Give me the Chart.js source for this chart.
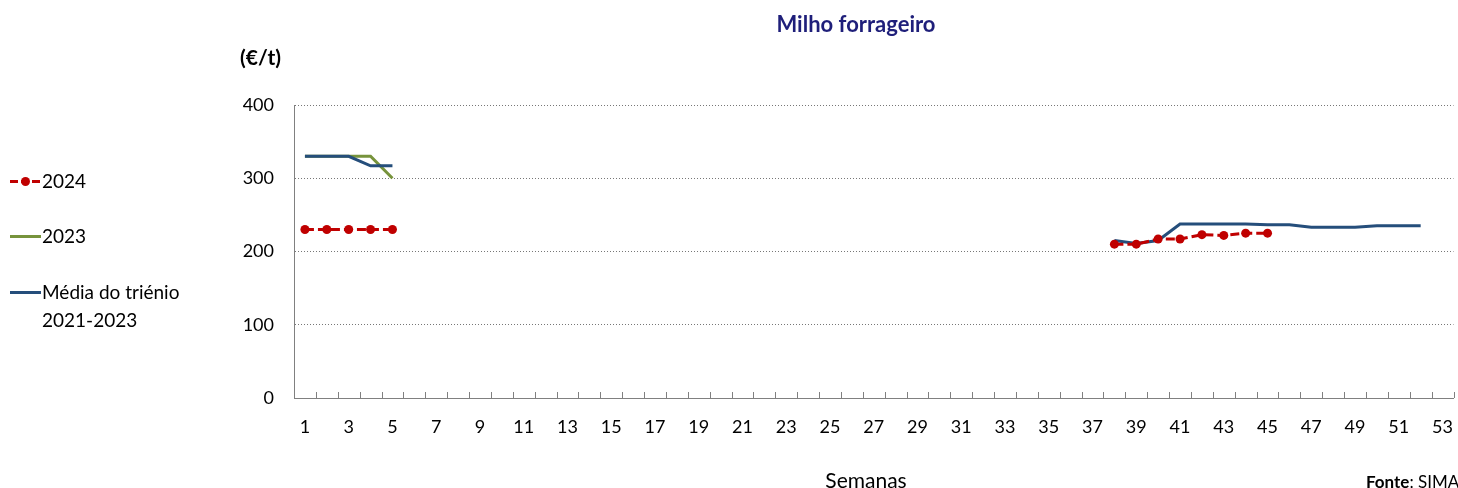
<!DOCTYPE html>
<html>
<head>
<meta charset="utf-8">
<script src="https://cdn.jsdelivr.net/npm/chart.js@4"></script>
<style>
  body { margin: 0; background: #fff; font-family: Lato, "Open Sans", sans-serif; }
  #wrap { position: relative; width: 1458px; height: 488px; overflow: hidden; }
  canvas { position: absolute; left: 0; top: 0; }
  .txt { position: absolute; white-space: nowrap; color: #000; font-size: 18px; line-height: 28px; }
  .legend-item { position: absolute; left: 10px; font-size: 19px; line-height: 28px; }
  .swatch { position: absolute; left: 0; top: 13px; width: 31px; height: 3px; }
  .legend-item span.lbl { position: absolute; left: 32px; top: 0; white-space: nowrap; }
</style>
</head>
<body>
<div id="wrap">
  <canvas id="chart" width="1458" height="488"></canvas>
  <div class="txt" style="left:856px;top:10px;transform:translateX(-50%);font-weight:bold;color:#1F1F7A;font-size:22px;">Milho forrageiro</div>
  <div class="txt" style="left:240px;top:43px;font-weight:bold;font-size:21px;">(€/t)</div>
  <div class="txt" style="left:866px;top:466px;transform:translateX(-50%);font-size:21px;">Semanas</div>
  <div class="txt" style="left:1366px;top:469px;font-size:17px;line-height:26px;"><b>Fonte</b>: SIMA</div>

  <div class="legend-item" style="top:167px;">
    <div class="swatch" style="background:repeating-linear-gradient(90deg,#C00000 0 8px,transparent 8px 11px);"></div>
    <div style="position:absolute;left:11px;top:10px;width:9px;height:9px;border-radius:50%;background:#C00000;"></div>
    <span class="lbl">2024</span>
  </div>
  <div class="legend-item" style="top:222px;">
    <div class="swatch" style="background:#77933C;"></div>
    <span class="lbl">2023</span>
  </div>
  <div class="legend-item" style="top:278px;">
    <div class="swatch" style="background:#254E7B;"></div>
    <span class="lbl">Média do triénio<br>2021-2023</span>
  </div>
</div>
<script>
// weeks 1..53
const weeks = Array.from({ length: 53 }, (_, i) => String(i + 1));

// values by week, null = no quote
const serie2024 = [
  230, 230, 230, 230, 230, null, null, null, null, null,
  null, null, null, null, null, null, null, null, null, null,
  null, null, null, null, null, null, null, null, null, null,
  null, null, null, null, null, null, null, 210, 210, 217,
  217, 223, 222, 225, 225, null, null, null, null, null,
  null, null, null,
];
const serie2023 = [
  330, 330, 330, 330, 300, null, null, null, null, null,
  null, null, null, null, null, null, null, null, null, null,
  null, null, null, null, null, null, null, null, null, null,
  null, null, null, null, null, null, null, null, null, null,
  null, null, null, null, null, null, null, null, null, null,
  null, null, null,
];
const mediaTrienio = [
  330, 330, 330, 317, 317, null, null, null, null, null,
  null, null, null, null, null, null, null, null, null, null,
  null, null, null, null, null, null, null, null, null, null,
  null, null, null, null, null, null, null, 215, 211, 215,
  237.5, 237.5, 237.5, 237.5, 236.5, 236.5, 233, 233, 233, 235,
  235, 235, null,
];
const yTicks = [0, 100, 200, 300, 400];

// small tick marks between categories, drawn upward from the axis
const innerTicks = {
  id: "innerTicks",
  afterDraw(chart) {
    const x = chart.scales.x;
    const ctx = chart.ctx;
    const half = (x.getPixelForValue(1) - x.getPixelForValue(0)) / 2;
    ctx.save();
    ctx.strokeStyle = "#808080";
    ctx.lineWidth = 1;
    ctx.beginPath();
    for (let i = 0; i <= weeks.length; i++) {
      const px = Math.round(x.getPixelForValue(i) - half) + 0.5;
      ctx.moveTo(px, x.top);
      ctx.lineTo(px, x.top - 6);
    }
    ctx.stroke();
    ctx.restore();
  },
};

new Chart(document.getElementById("chart"), {
  type: "line",
  data: {
    labels: weeks,
    datasets: [
      {
        label: "2024",
        data: serie2024,
        borderColor: "#C00000",
        backgroundColor: "#C00000",
        borderWidth: 3,
        borderDash: [9, 4],
        pointRadius: 4.5,
        pointBorderWidth: 0,
        order: 0,
      },
      {
        label: "2023",
        data: serie2023,
        borderColor: "#77933C",
        borderWidth: 3,
        pointRadius: 0,
        order: 2,
      },
      {
        label: "Média do triénio 2021-2023",
        data: mediaTrienio,
        borderColor: "#254E7B",
        borderWidth: 3,
        pointRadius: 0,
        order: 1,
      },
    ],
  },
  options: {
    responsive: false,
    animation: false,
    spanGaps: false,
    layout: { padding: { top: 105, right: 1, left: 0, bottom: 0 } },
    plugins: { legend: { display: false }, tooltip: { enabled: false } },
    scales: {
      x: {
        offset: true,
        grid: { display: false, drawTicks: false },
        border: { display: true, color: "#808080", width: 1 },
        ticks: {
          autoSkip: false,
          maxRotation: 0,
          padding: 18,
          color: "#000",
          font: { family: "Lato", size: 18 },
          callback: (v, i) => (i % 2 === 0 ? weeks[i] : ""),
        },
        afterFit: (s) => {
          s.height = 90;
          s.paddingLeft = 0;
          s.paddingRight = 0;
        },
      },
      y: {
        min: 0,
        max: 400,
        afterBuildTicks: (s) => { s.ticks = yTicks.map((v) => ({ value: v })); },
        grid: {
          drawTicks: false,
          color: (c) => (c.tick.value === 0 ? "rgba(0,0,0,0)" : "#777"),
          lineWidth: 1,
        },
        border: { display: true, color: "#808080", width: 1, dash: [1, 2] },
        ticks: {
          padding: 20,
          color: "#000",
          font: { family: "Lato", size: 18 },
        },
        afterFit: (s) => {
          s.width = 294;
          s.paddingTop = 0;
          s.paddingBottom = 0;
        },
      },
    },
  },
  plugins: [innerTicks],
});
</script>
</body>
</html>
